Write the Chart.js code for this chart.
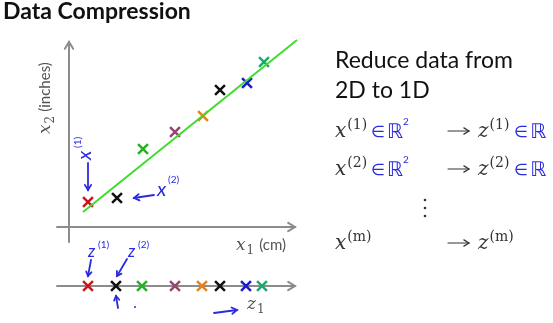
<!DOCTYPE html>
<html>
<head>
<meta charset="utf-8">
<script src="https://cdn.jsdelivr.net/npm/chart.js@4.4.1/dist/chart.umd.min.js"></script>
<style>
  html, body { margin: 0; padding: 0; background: #fff; }
  canvas { display: block; }
</style>
</head>
<body>
<canvas id="c" width="553" height="323"></canvas>
<script>
// Samples in the original 2D space (x1 in cm, x2 in inches)
const x1Values = [1.9, 4.8, 7.4, 10.6, 13.4, 15.1, 17.8, 19.5];
const x2Values = [2.5, 2.9, 7.8, 9.5, 11.1, 13.7, 14.4, 16.5];
const sampleColors = ['#c8161e', '#111111', '#22b322', '#9a4470', '#e8801e', '#111111', '#1a1ad0', '#1ea870'];

// Their 1D coordinates along the projection line
const z1Values = [1.9, 4.7, 7.3, 10.6, 13.3, 15.1, 17.7, 19.3];
const zAxisLevel = -5.9;

// Direction line the points are projected onto
const lineX1 = [1.4, 22.8];
const lineX2 = [1.5, 18.7];

// Axis extents
const axisX1 = [-1.2, 22.6];
const axisX2 = [-1.5, 18.5];

const pts = (xs, ys) => xs.map((v, i) => ({ x: v, y: ys[i] }));

const serif = "'DejaVu Serif', 'Liberation Serif', serif";
const sans = "Lato, 'Open Sans', 'Liberation Sans', sans-serif";
const hand = '#2a2ae0';

function arrowHead(ctx, x, y, angle, len) {
  ctx.beginPath();
  ctx.moveTo(x - len * Math.cos(angle - 0.55), y - len * Math.sin(angle - 0.55));
  ctx.lineTo(x, y);
  ctx.lineTo(x - len * Math.cos(angle + 0.55), y - len * Math.sin(angle + 0.55));
  ctx.stroke();
}

function arrow(ctx, x0, y0, x1, y1, head) {
  ctx.beginPath();
  ctx.moveTo(x0, y0);
  ctx.lineTo(x1, y1);
  ctx.stroke();
  arrowHead(ctx, x1, y1, Math.atan2(y1 - y0, x1 - x0), head);
}

// italic symbol with a superscript / subscript
function mathSym(ctx, x, y, sym, sup, sub, size, color) {
  ctx.fillStyle = color;
  ctx.font = 'italic ' + size + 'px ' + serif;
  ctx.fillText(sym, x, y);
  let w = ctx.measureText(sym).width;
  const s = Math.round(size * 0.7);
  if (sup) {
    ctx.font = s + 'px ' + serif;
    ctx.fillText(sup, x + w + 1, y - size * 0.4);
    w += 1 + ctx.measureText(sup).width;
  }
  if (sub) {
    ctx.font = s + 'px ' + serif;
    ctx.fillText(sub, x + w + 1, y + size * 0.22);
    w += 1 + ctx.measureText(sub).width;
  }
  return w;
}

// blue handwritten "∈ℝ" with an optional raised 2
function memberR(ctx, x, y, squared) {
  ctx.fillStyle = hand;
  ctx.font = '16px ' + sans;
  ctx.fillText('\u2208', x, y);
  const we = ctx.measureText('\u2208').width;
  ctx.font = '20px ' + "'DejaVu Sans', sans-serif";
  ctx.fillText('\u211D', x + we + 2, y + 1);
  const wr = ctx.measureText('\u211D').width;
  if (squared) {
    ctx.font = '10px ' + sans;
    ctx.fillText('2', x + we + wr + 2, y - 12);
  }
}

const decor = {
  id: 'decor',
  beforeDatasetsDraw(chart) {
    const { ctx, scales: { x, y } } = chart;
    ctx.save();
    ctx.strokeStyle = '#8c8c8c';
    ctx.lineWidth = 2;
    ctx.lineCap = 'round';
    // x2 axis
    const ox = x.getPixelForValue(0);
    arrow(ctx, ox, y.getPixelForValue(axisX2[0]), ox, y.getPixelForValue(axisX2[1]), 8);
    // x1 axis
    const oy = y.getPixelForValue(0);
    arrow(ctx, x.getPixelForValue(axisX1[0]), oy, x.getPixelForValue(axisX1[1]), oy, 8);
    // z1 axis
    const zy = y.getPixelForValue(zAxisLevel);
    arrow(ctx, x.getPixelForValue(axisX1[0]), zy, x.getPixelForValue(axisX1[1]), zy, 8);
    ctx.restore();
  },
  afterDraw(chart) {
    const { ctx } = chart;
    ctx.save();
    ctx.textBaseline = 'alphabetic';

    // Title
    ctx.fillStyle = '#111';
    ctx.font = 'bold 23px ' + sans;
    ctx.fillText('Data Compression', 3, 19);

    // Axis labels
    ctx.save();
    ctx.translate(50, 134);
    ctx.rotate(-Math.PI / 2);
    let w = mathSym(ctx, 0, 0, 'x', null, '2', 17, '#555');
    ctx.font = '15px ' + sans;
    ctx.fillText('(inches)', w + 4, 0);
    ctx.restore();

    w = mathSym(ctx, 236, 250, 'x', null, '1', 17, '#555');
    ctx.font = '15px ' + sans;
    ctx.fillText('(cm)', 236 + w + 5, 250);

    mathSym(ctx, 247, 309, 'z', null, '1', 17, '#555');

    // Handwritten notes
    ctx.strokeStyle = hand;
    ctx.fillStyle = hand;
    ctx.lineWidth = 1.8;
    ctx.lineCap = 'round';
    ctx.save();
    ctx.translate(91, 160);
    ctx.rotate(-Math.PI / 2);
    ctx.font = 'italic 20px ' + sans;
    ctx.fillText('x', 0, 0);
    ctx.font = '10px ' + sans;
    ctx.fillText('(1)', 12, -10);
    ctx.restore();
    arrow(ctx, 88, 163, 88, 190, 6);

    arrow(ctx, 154, 195, 134, 198, 6);
    ctx.font = 'italic 20px ' + sans;
    ctx.fillText('x', 157, 196);
    ctx.font = '10px ' + sans;
    ctx.fillText('(2)', 168, 183);

    ctx.font = 'italic 17px ' + sans;
    ctx.fillText('z', 88, 257);
    ctx.font = '10px ' + sans;
    ctx.fillText('(1)', 98, 248);
    arrow(ctx, 91, 260, 88, 276, 5);

    ctx.font = 'italic 17px ' + sans;
    ctx.fillText('z', 128, 257);
    ctx.font = '10px ' + sans;
    ctx.fillText('(2)', 138, 248);
    arrow(ctx, 127, 259, 117, 276, 5);

    arrow(ctx, 118, 308, 116, 296, 5);
    ctx.beginPath();
    ctx.arc(135, 307, 1, 0, Math.PI * 2);
    ctx.fill();

    arrow(ctx, 214, 313, 237, 310, 6);

    // Right-hand text
    ctx.fillStyle = '#111';
    ctx.font = '23px ' + sans;
    ctx.fillText('Reduce data from', 335, 68);
    ctx.fillText('2D to 1D', 335, 98);

    const rows = [
      { y: 137, sup: '(1)', xs: true, zs: true },
      { y: 175, sup: '(2)', xs: true, zs: true },
      { y: 249, sup: '(m)', xs: false, zs: false }
    ];
    rows.forEach(r => {
      const wx = mathSym(ctx, 335, r.y, 'x', r.sup, null, 20, '#333');
      if (r.xs) memberR(ctx, 335 + wx + 4, r.y, true);
      ctx.strokeStyle = '#333';
      ctx.lineWidth = 1.2;
      arrow(ctx, 448, r.y - 6, 469, r.y - 6, 6);
      const wz = mathSym(ctx, 478, r.y, 'z', r.sup, null, 20, '#333');
      if (r.zs) memberR(ctx, 478 + wz + 5, r.y, false);
    });
    ctx.fillStyle = '#333';
    [200, 208, 216].forEach(yy => {
      ctx.beginPath();
      ctx.arc(425, yy, 1.3, 0, Math.PI * 2);
      ctx.fill();
    });
    ctx.restore();
  }
};

new Chart(document.getElementById('c'), {
  type: 'scatter',
  data: {
    datasets: [
      {
        data: pts(lineX1, lineX2),
        showLine: true,
        borderColor: '#3fdc2c',
        borderWidth: 2,
        pointRadius: 0
      },
      {
        data: pts(x1Values, x2Values),
        pointStyle: 'crossRot',
        pointRadius: 7,
        pointBorderWidth: 2.5,
        pointBorderColor: sampleColors,
        borderColor: sampleColors
      },
      {
        data: z1Values.map(v => ({ x: v, y: zAxisLevel })),
        pointStyle: 'crossRot',
        pointRadius: 7,
        pointBorderWidth: 2.5,
        pointBorderColor: sampleColors,
        borderColor: sampleColors
      }
    ]
  },
  options: {
    responsive: false,
    devicePixelRatio: 1,
    animation: false,
    layout: { padding: 0, autoPadding: false },
    plugins: { legend: { display: false }, tooltip: { enabled: false } },
    scales: {
      x: { type: 'linear', min: -6.9, max: 48.4, display: false },
      y: { type: 'linear', min: -9.6, max: 22.7, display: false }
    }
  },
  plugins: [decor]
});
</script>
</body>
</html>
